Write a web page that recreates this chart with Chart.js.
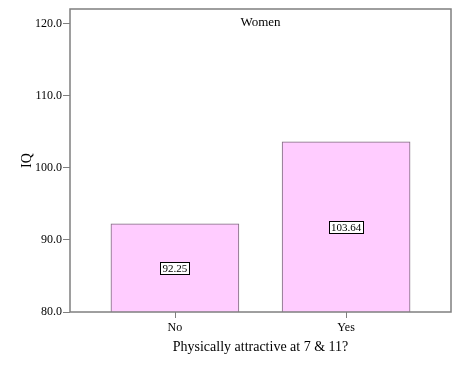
<!DOCTYPE html>
<html>
<head>
<meta charset="utf-8">
<script src="https://cdn.jsdelivr.net/npm/chart.js@4/dist/chart.umd.min.js"></script>
<style>
  html, body { margin: 0; padding: 0; background: #fff; }
  #wrap { width: 460px; height: 368px; }
</style>
</head>
<body>
<div id="wrap"><canvas id="chart-iq"></canvas></div>
<script>
const categories = ["No", "Yes"];
const meanIQ = [92.25, 103.64];
const yTicks = [80, 90, 100, 110, 120];
const panelTitle = "Women";

const serif = "'Liberation Serif', 'DejaVu Serif', serif";
const axisGray = "#7f7f7f";

// frame round the plot, x tick marks, the panel title, and boxed value labels
const extras = {
    id: "extras",
    afterDraw(chart) {
        const ctx = chart.ctx;
        const a = chart.chartArea;
        const xs = chart.scales.x;
        const ys = chart.scales.y;
        ctx.save();
        ctx.strokeStyle = axisGray;
        ctx.lineWidth = 1;
        categories.forEach((c, i) => {
            const px = Math.round(xs.getPixelForValue(i)) + 0.5;
            ctx.beginPath();
            ctx.moveTo(px, a.bottom);
            ctx.lineTo(px, a.bottom + 6);
            ctx.stroke();
        });
        ctx.lineWidth = 1.5;
        ctx.strokeRect(a.left, a.top, a.right - a.left, a.bottom - a.top);

        ctx.fillStyle = "#000";
        ctx.font = "13px " + serif;
        ctx.textAlign = "center";
        ctx.textBaseline = "middle";
        ctx.fillText(panelTitle, (a.left + a.right) / 2, a.top + 14);

        ctx.font = "11px " + serif;
        meanIQ.forEach((v, i) => {
            const txt = v.toFixed(2);
            const cx = xs.getPixelForValue(i);
            const cy = (ys.getPixelForValue(v) + ys.getPixelForValue(ys.min)) / 2;
            const w = Math.round(ctx.measureText(txt).width + 4);
            const h = 12;
            const bx = Math.round(cx - w / 2) + 0.5;
            const by = Math.round(cy - h / 2) + 0.5;
            ctx.fillStyle = "#fff";
            ctx.fillRect(bx, by, w, h);
            ctx.strokeStyle = "#000";
            ctx.lineWidth = 1;
            ctx.strokeRect(bx, by, w, h);
            ctx.fillStyle = "#000";
            ctx.fillText(txt, cx, cy + 1);
        });
        ctx.restore();
    }
};

new Chart(document.getElementById("chart-iq"), {
    type: "bar",
    data: {
        datasets: [{
            data: meanIQ.map((v, i) => ({ x: i, y: v })),
            backgroundColor: "#ffccff",
            borderColor: "#7d6a7d",
            borderWidth: 1,
            borderSkipped: false,
            barThickness: 128,
        }],
    },
    options: {
        responsive: true,
        maintainAspectRatio: false,
        animation: false,
        layout: { padding: { top: 9, right: 9, left: 0, bottom: 0 } },
        plugins: {
            legend: { display: false },
            tooltip: { enabled: false },
        },
        scales: {
            x: {
                type: "linear",
                offset: false,
                min: -0.613,
                max: 1.613,
                afterBuildTicks: (s) => { s.ticks = categories.map((c, i) => ({ value: i })); },
                afterFit: (s) => { s.height = 56; },
                grid: { display: false },
                border: { display: false },
                ticks: {
                    callback: (v) => categories[v],
                    color: "#000",
                    font: { family: serif, size: 12 },
                    padding: 1,
                },
                title: {
                    display: true,
                    text: "Physically attractive at 7 & 11?",
                    color: "#000",
                    font: { family: serif, size: 14 },
                    padding: { top: 0, bottom: 12 },
                },
            },
            y: {
                min: 80,
                max: 122.08,
                afterBuildTicks: (s) => { s.ticks = yTicks.map((v) => ({ value: v })); },
                afterFit: (s) => { s.width = 70; },
                grid: { display: true, drawOnChartArea: false, tickLength: 7, tickColor: axisGray },
                border: { display: false },
                ticks: {
                    callback: (v) => v.toFixed(1),
                    color: "#000",
                    font: { family: serif, size: 12 },
                    padding: 1,
                },
                title: {
                    display: true,
                    text: "IQ",
                    color: "#000",
                    font: { family: serif, size: 14 },
                    padding: { top: 19, bottom: 0 },
                },
            },
        },
    },
    plugins: [extras],
});
</script>
</body>
</html>
